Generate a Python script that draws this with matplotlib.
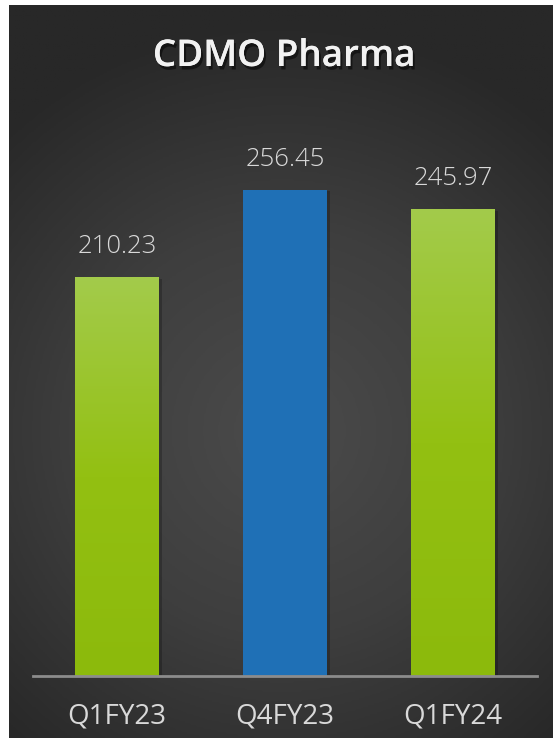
import numpy as np
import matplotlib
matplotlib.use("Agg")
import matplotlib.pyplot as plt
import matplotlib.patheffects as pe
from matplotlib.colors import LinearSegmentedColormap

categories = ["Q1FY23", "Q4FY23", "Q1FY24"]
values = [210.23, 256.45, 245.97]
value_labels = ["210.23", "256.45", "245.97"]
title = "CDMO Pharma"

W, H = 555, 738
fig = plt.figure(figsize=(W / 100, H / 100), dpi=100)
fig.patch.set_facecolor("white")

# background panel with radial gradient
bg = fig.add_axes([9 / W, 0, (553 - 9) / W, (H - 5) / H])
bg.set_axis_off()
ny, nx = 400, 300
yy, xx = np.mgrid[0:ny, 0:nx]
cx, cy = nx * 0.5, ny * 0.58
r = np.sqrt(((xx - cx) / nx) ** 2 + ((yy - cy) / ny) ** 2 * 1.8)
r = np.clip(r / 0.75, 0, 1)
bgcmap = LinearSegmentedColormap.from_list("bg", ["#4b4b4b", "#3e3e3e", "#282828"])
bg.imshow(r, cmap=bgcmap, aspect="auto", extent=[0, 1, 0, 1], origin="upper", vmin=0, vmax=1)
bg.set_xlim(0, 1)
bg.set_ylim(0, 1)

ax = fig.add_axes([33 / W, 62 / H, 504 / W, 569 / H])
ax.patch.set_alpha(0)
x = np.arange(len(categories))
colors = ["green", "blue", "green"]
bars = ax.bar(x, values, width=0.5, color="none", edgecolor="none", zorder=3)

green = LinearSegmentedColormap.from_list("g", ["#8cba0c", "#93c012", "#a3cb4b"])
grad = np.linspace(0, 1, 256).reshape(-1, 1)
for b, c, v in zip(bars, colors, values):
    x0 = b.get_x()
    w = b.get_width()
    ax.bar(b.get_x() + w / 2 + 0.02, v, width=w, color="black", alpha=0.22, zorder=2, bottom=-1)
    if c == "green":
        im = ax.imshow(grad, cmap=green, aspect="auto", extent=[x0, x0 + w, 0, v],
                       origin="lower", zorder=3, vmin=0, vmax=1)
        im.set_clip_path(b)
    else:
        b.set_facecolor("#1f70b6")
ax.set_xlim(-0.5, 2.5)
ax.set_ylim(0, 300)

for xi, v, lab in zip(x, values, value_labels):
    ax.annotate(lab, (xi, v), xytext=(0, 13), textcoords="offset points",
                ha="center", va="bottom", fontsize=18.5, color="#d9d9d9",
                family=["Open Sans", "DejaVu Sans"], fontweight="light")

for s in ["top", "right", "left"]:
    ax.spines[s].set_visible(False)
ax.spines["bottom"].set_color("#8c8c8c")
ax.spines["bottom"].set_linewidth(2)
ax.spines["bottom"].set_zorder(4)
ax.set_yticks([])
ax.set_xticks(x)
ax.set_xticklabels(categories, fontsize=20, color="#d9d9d9", family=["Open Sans", "DejaVu Sans"])
ax.tick_params(axis="x", length=0, pad=19)

fig.text(284 / W, 1 - 57 / H, title, ha="center", va="center", fontsize=26.5,
         fontweight="semibold", color="#f2f2f2", family=["Open Sans", "DejaVu Sans"],
         path_effects=[pe.withSimplePatchShadow(offset=(1.5, -2.5), shadow_rgbFace="black", alpha=0.5),
                       pe.Normal()])

fig.savefig("out.png", dpi=100, facecolor=fig.get_facecolor())
